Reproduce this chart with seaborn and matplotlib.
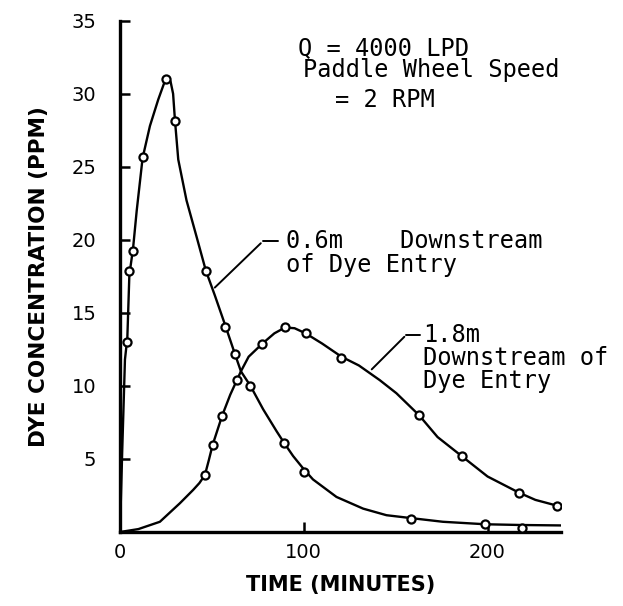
import matplotlib
matplotlib.use("Agg")
import matplotlib.pyplot as plt
import seaborn as sns
import pandas as pd

t_06 = [4.0, 5.1, 7.1, 12.3, 24.8, 29.9, 46.7, 57.4, 62.5, 71.0, 89.3, 100, 158.5, 198.8, 218.6]
c_06 = [13.0, 17.9, 19.25, 25.7, 31.0, 28.15, 17.9, 14.06, 12.2, 10.0, 6.1, 4.1, 0.9, 0.53, 0.25]

t_18 = [46.2, 50.4, 55.6, 63.4, 77.5, 89.8, 101, 120.5, 162.7, 185.9, 217, 237.9]
c_18 = [3.9, 5.96, 7.97, 10.4, 12.9, 14.0, 13.6, 11.9, 8.0, 5.2, 2.7, 1.8]

# hand drawn fitted curves
curve_t_06 = [0, 1.2, 2.7, 4.0, 5.1, 7.1, 9.1, 12.3, 16.3, 20.8, 24.8, 27.5, 28.9, 29.9,
              31.7, 36.2, 41.7, 46.7, 51.6, 57.4, 62.5, 65.8, 71.0, 77.9, 85.2, 89.3,
              94.2, 100, 105, 117.8, 132.3, 145, 158.5, 175.7, 198.8, 218, 240]
curve_c_06 = [0, 5.5, 11.8, 13.3, 17.6, 19.4, 22.0, 25.6, 27.8, 29.6, 31.0, 30.85, 30.0, 28.2,
              25.5, 22.7, 20.2, 17.9, 16.2, 14.1, 12.2, 11.0, 10.0, 8.4, 6.9, 6.1,
              5.2, 4.3, 3.6, 2.4, 1.6, 1.15, 0.95, 0.7, 0.53, 0.48, 0.45]

curve_t_18 = [0, 10, 21.7, 32.6, 39.8, 43.2, 46.2, 48.3, 50.4, 55.6, 60, 65.8, 70, 77.5, 84,
              89.8, 95, 101, 110, 120.5, 130, 141.3, 150.4, 162.7, 172.8, 185.9, 200, 217,
              226, 237.9]
curve_c_18 = [0, 0.2, 0.7, 1.97, 2.88, 3.35, 3.9, 4.9, 5.96, 7.97, 9.4, 11.0, 12.0, 12.9, 13.6,
              14.0, 13.95, 13.6, 12.9, 12.0, 11.4, 10.4, 9.5, 8.0, 6.5, 5.2, 3.8, 2.7,
              2.2, 1.8]

x_ticks = [0, 100, 200]
y_ticks = [5, 10, 15, 20, 25, 30, 35]

sns.set_style("ticks")
plt.rcParams['font.family'] = ['DejaVu Sans']

fig = plt.figure(figsize=(6.23, 6.06), dpi=100)
ax = fig.add_axes([0.1926, 0.1221, 0.708, 0.8437])

curve06 = pd.DataFrame({"t": curve_t_06, "c": curve_c_06})
curve18 = pd.DataFrame({"t": curve_t_18, "c": curve_c_18})
sns.lineplot(data=curve06, x="t", y="c", sort=False, color="black", lw=1.7, ax=ax)
sns.lineplot(data=curve18, x="t", y="c", sort=False, color="black", lw=1.7, ax=ax)

pts = pd.DataFrame({"t": t_06 + t_18, "c": c_06 + c_18})
sns.scatterplot(data=pts, x="t", y="c", s=34, facecolor="white", edgecolor="black",
                linewidth=1.6, zorder=5, ax=ax)

ax.set_xlim(0, 240)
ax.set_ylim(0, 35)
ax.set_xticks(x_ticks)
ax.set_yticks(y_ticks)
ax.tick_params(direction="in", length=7, width=1.8, labelsize=14, color="black",
               labelcolor="black")
ax.tick_params(axis="y", pad=17)
ax.tick_params(axis="x", pad=8)
sns.despine(ax=ax)
for sp in ["left", "bottom"]:
    ax.spines[sp].set_linewidth(2.4)
    ax.spines[sp].set_color("black")

ax.set_xlabel("TIME (MINUTES)", fontsize=15, fontweight="bold", color="black", labelpad=9)
ax.set_ylabel("DYE CONCENTRATION (PPM)", fontsize=15.5, fontweight="bold", color="black")
ax.yaxis.set_label_coords(-0.16, 0.5)

mono = dict(family="DejaVu Sans Mono", fontsize=17, ha="left", va="center", color="black")
ax.text(96.7, 33.1, "Q = 4000 LPD", **mono)
ax.text(99.5, 31.6, "Paddle Wheel Speed", **mono)
ax.text(116.8, 29.6, "= 2 RPM", **mono)

ax.text(90.2, 19.9, "0.6m    Downstream", **mono)
ax.text(90.2, 18.3, "of Dye Entry", **mono)
ax.plot([77.7, 86.0], [19.9, 19.9], color="black", lw=1.4)
ax.annotate("", xy=(50.5, 16.6), xytext=(77.7, 19.9),
            arrowprops=dict(arrowstyle="-", color="black", lw=1.4))

ax.text(164.7, 13.5, "1.8m", **mono)
ax.text(164.7, 11.9, "Downstream of", **mono)
ax.text(164.7, 10.35, "Dye Entry", **mono)
ax.plot([155.8, 163.0], [13.5, 13.5], color="black", lw=1.4)
ax.annotate("", xy=(135.9, 11.0), xytext=(155.8, 13.5),
            arrowprops=dict(arrowstyle="-", color="black", lw=1.4))

fig.savefig("out.png", dpi=100)
